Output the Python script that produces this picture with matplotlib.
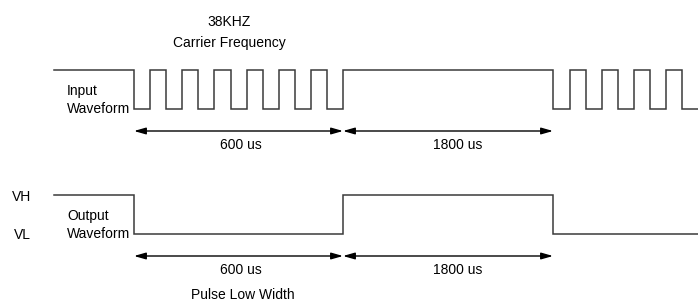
import numpy as np
import matplotlib.pyplot as plt

plt.rcParams['font.family'] = ['Liberation Sans', 'DejaVu Sans']

# diagram coordinates (x to the right, y downward)
x_start, x_end = 54, 698

# input: 38 kHz carrier bursts, toggle positions
in_edges = [134, 150, 166, 182, 198, 214, 231, 247, 263, 279, 295, 311, 327, 343,
            553, 570, 586, 602, 618, 634, 650, 666, 682]
in_high, in_low = 70, 109

# output: demodulated level, toggle positions
out_edges = [134, 343, 553]
out_high, out_low = 195, 234

# timing spans: (start, end, label)
spans = [(134, 343, '600 us'), (343, 553, '1800 us')]
label_x = [241, 458]
in_arrow_y, out_arrow_y = 131, 256


def square(edges, hi, lo):
    xs, ys = [x_start], [hi]
    level = hi
    for e in edges:
        xs.append(e); ys.append(level)
        level = lo if level == hi else hi
        xs.append(e); ys.append(level)
    xs.append(x_end); ys.append(level)
    return xs, ys


fig = plt.figure(figsize=(6.98, 3.02), dpi=100)
ax = fig.add_axes([0, 0, 1, 1])
ax.set_xlim(0, 698)
ax.set_ylim(302, 0)
ax.axis('off')

wave_color = '#3a3a3a'
xs, ys = square(in_edges, in_high, in_low)
ax.plot(xs, ys, color=wave_color, lw=1.1, solid_joinstyle='miter')
xs, ys = square(out_edges, out_high, out_low)
ax.plot(xs, ys, color=wave_color, lw=1.1, solid_joinstyle='miter')

arrow = dict(arrowstyle='<|-|>,head_length=0.7,head_width=0.2', color='black',
             lw=1.0, shrinkA=0, shrinkB=0, mutation_scale=10)
fs = 10
for arrow_y in [in_arrow_y, out_arrow_y]:
    for (a, b, lab), lx in zip(spans, label_x):
        ax.annotate('', xy=(b, arrow_y), xytext=(a, arrow_y), arrowprops=arrow)
        ax.text(lx, arrow_y + 14, lab, ha='center', va='center', fontsize=fs)

ax.text(229, 22, '38KHZ', ha='center', va='center', fontsize=fs)
ax.text(229, 43, 'Carrier Frequency', ha='center', va='center', fontsize=fs)
ax.text(67, 91, 'Input', ha='left', va='center', fontsize=fs)
ax.text(67, 109, 'Waveform', ha='left', va='center', fontsize=fs)
ax.text(67, 216, 'Output', ha='left', va='center', fontsize=fs)
ax.text(67, 234, 'Waveform', ha='left', va='center', fontsize=fs)
ax.text(22, 197, 'VH', ha='center', va='center', fontsize=fs)
ax.text(22, 235, 'VL', ha='center', va='center', fontsize=fs)
ax.text(243, 295, 'Pulse Low Width', ha='center', va='center', fontsize=fs)

fig.savefig('out.png', dpi=100)
